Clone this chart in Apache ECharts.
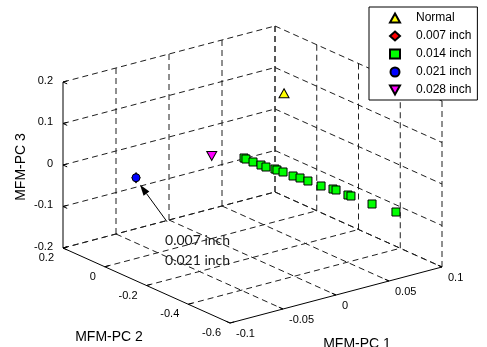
<!DOCTYPE html>
<html>
<head>
<meta charset="utf-8">
<script src="https://cdn.jsdelivr.net/npm/echarts@6/dist/echarts.min.js"></script>
<style>
  html, body { margin: 0; padding: 0; background: #fff; }
  #chart { width: 487px; height: 347px; }
</style>
</head>
<body>
<div id="chart"></div>
<script>
// ---- axis ticks ----
const pc1Ticks = [-0.1, -0.05, 0, 0.05, 0.1];
const pc2Ticks = [0.2, 0, -0.2, -0.4, -0.6];
const pc3Ticks = [0.2, 0.1, 0, -0.1, -0.2];
const pc1TickLabels = ['-0.1', '-0.05', '0', '0.05', '0.1'];
const pc2TickLabels = ['0.2', '0', '-0.2', '-0.4', '-0.6'];
const pc3TickLabels = ['0.2', '0.1', '0', '-0.1', '-0.2'];

// ---- classes and their feature points [PC1, PC2, PC3] ----
const classNames = ['Normal', '0.007 inch', '0.014 inch', '0.021 inch', '0.028 inch'];
const normalPts = [[0.0987, 0.1501, 0.050]];
const fault007Pts = [[-0.0350, 0.1803, -0.070]];
const fault014Pts = [
  [0.0168, -0.0741, 0.000],
  [0.0166, -0.0844, 0.000],
  [0.0196, -0.1030, -0.005],
  [0.0220, -0.1290, -0.008],
  [0.0234, -0.1457, -0.010],
  [0.0272, -0.1695, -0.012],
  [0.0276, -0.1770, -0.013],
  [0.0297, -0.1955, -0.015],
  [0.0320, -0.2318, -0.018],
  [0.0346, -0.2520, -0.020],
  [0.0364, -0.2808, -0.022],
  [0.0398, -0.3263, -0.026],
  [0.0451, -0.3566, -0.030],
  [0.0456, -0.3686, -0.030],
  [0.0488, -0.4095, -0.035],
  [0.0498, -0.4188, -0.036],
  [0.0567, -0.4847, -0.045],
  [0.0658, -0.5531, -0.055]
];
const fault021Pts = [[-0.0350, 0.1803, -0.070]];
const fault028Pts = [[0.0332, 0.1639, -0.060]];
const annotationLines = ['0.007 inch', '0.021 inch'];

// ---- box extents ----
const PC1_MIN = -0.1, PC1_MAX = 0.1;
const PC2_MIN = -0.6, PC2_MAX = 0.2;
const PC3_MIN = -0.2, PC3_MAX = 0.2;

// Orthographic view of the box: screen position of the (PC1_MIN, PC2_MAX, PC3_MIN)
// corner and the screen displacement per unit along each axis.
const VIEW = {
  origin: [63, 248],
  e1: [1060, -280],      // +PC1
  e2: [-208.75, -93.75], // +PC2
  e3: [0, -415]          // +PC3
};
function project(p) {
  const a = p[0] - PC1_MIN, b = p[1] - PC2_MAX, c = p[2] - PC3_MIN;
  return [
    VIEW.origin[0] + a * VIEW.e1[0] + b * VIEW.e2[0] + c * VIEW.e3[0],
    VIEW.origin[1] + a * VIEW.e1[1] + b * VIEW.e2[1] + c * VIEW.e3[1]
  ];
}
function seg(p, q) { const a = project(p), b = project(q); return [a[0], a[1], b[0], b[1]]; }

// ---- dashed grid on the two back walls and the floor ----
const gridSegs = [];
pc1Ticks.forEach(x => {
  if (x !== PC1_MIN) gridSegs.push(seg([x, PC2_MAX, PC3_MIN], [x, PC2_MAX, PC3_MAX]));
  if (x !== PC1_MIN) gridSegs.push(seg([x, PC2_MAX, PC3_MIN], [x, PC2_MIN, PC3_MIN]));
});
pc2Ticks.forEach(y => {
  gridSegs.push(seg([PC1_MAX, y, PC3_MIN], [PC1_MAX, y, PC3_MAX]));
  if (y !== PC2_MIN) gridSegs.push(seg([PC1_MIN, y, PC3_MIN], [PC1_MAX, y, PC3_MIN]));
});
pc3Ticks.forEach(z => {
  gridSegs.push(seg([PC1_MIN, PC2_MAX, z], [PC1_MAX, PC2_MAX, z]));
  gridSegs.push(seg([PC1_MAX, PC2_MAX, z], [PC1_MAX, PC2_MIN, z]));
});

// ---- solid axes and tick marks ----
const axisSegs = [
  seg([PC1_MIN, PC2_MAX, PC3_MIN], [PC1_MIN, PC2_MAX, PC3_MAX]),
  seg([PC1_MIN, PC2_MAX, PC3_MIN], [PC1_MIN, PC2_MIN, PC3_MIN]),
  seg([PC1_MIN, PC2_MIN, PC3_MIN], [PC1_MAX, PC2_MIN, PC3_MIN])
];
pc3Ticks.forEach(z => {
  axisSegs.push(seg([PC1_MIN, PC2_MAX, z], [PC1_MIN + 0.004, PC2_MAX, z]));
  axisSegs.push(seg([PC1_MIN, PC2_MAX, z], [PC1_MIN, PC2_MAX - 0.02, z]));
});
pc2Ticks.forEach(y => axisSegs.push(seg([PC1_MIN, y, PC3_MIN], [PC1_MIN + 0.004, y, PC3_MIN])));
pc1Ticks.forEach(x => axisSegs.push(seg([x, PC2_MIN, PC3_MIN], [x, PC2_MIN + 0.02, PC3_MIN])));

// ---- tick label anchors ----
const tickTexts = [];
pc3Ticks.forEach((z, i) => {
  const p = project([PC1_MIN, PC2_MAX, z]);
  tickTexts.push([p[0] - 10, p[1] - 1.5, pc3TickLabels[i], 'right']);
});
pc2Ticks.forEach((y, i) => {
  const p = project([PC1_MIN, y, PC3_MIN]);
  tickTexts.push([p[0] - 9, p[1] + 10, pc2TickLabels[i], 'right']);
});
pc1Ticks.forEach((x, i) => {
  const p = project([x, PC2_MIN, PC3_MIN]);
  tickTexts.push([p[0] + 6, p[1] + 11, pc1TickLabels[i], 'left']);
});

const AXIS_FONT = 'Liberation Sans, Arial, sans-serif';

function segmentSeries(data, style, z) {
  return {
    type: 'custom', silent: true, z: z, data: data,
    encode: { x: [0, 2], y: [1, 3] },
    renderItem: (params, api) => {
      const a = api.coord([api.value(0), api.value(1)]);
      const b = api.coord([api.value(2), api.value(3)]);
      return { type: 'line', shape: { x1: a[0], y1: a[1], x2: b[0], y2: b[1] }, style: style };
    }
  };
}

// arrow pointing at the overlapping 0.007 / 0.021 inch points
const arrowTip = project(fault021Pts[0]).map((v, i) => v + [4, 7][i]);
const arrowTail = [arrowTip[0] + 27, arrowTip[1] + 37];

const triangleDown = 'path://M0,0L10,0L5,9Z';

const chart = echarts.init(document.getElementById('chart'), null, { renderer: 'canvas' });
chart.setOption({
  animation: false,
  backgroundColor: '#fff',
  grid: { left: 0, right: 0, top: 0, bottom: 0 },
  xAxis: { type: 'value', min: 0, max: 487, show: false },
  yAxis: { type: 'value', min: 0, max: 347, inverse: true, show: false },
  legend: {
    data: classNames,
    orient: 'vertical',
    left: 369, top: 7,
    padding: [5, 6, 4, 20],
    itemWidth: 10, itemHeight: 9, itemGap: 6,
    symbolKeepAspect: true,
    backgroundColor: '#fff', borderColor: '#000', borderWidth: 1, borderRadius: 0,
    selectedMode: false,
    textStyle: { fontFamily: AXIS_FONT, fontSize: 12, color: '#000', padding: [0, 0, 0, 11] }
  },
  graphic: [
    { type: 'text', x: 109, y: 337, style: { text: 'MFM-PC 2', font: '14px ' + AXIS_FONT, fill: '#000', align: 'center', verticalAlign: 'middle' } },
    { type: 'text', x: 357, y: 344, style: { text: 'MFM-PC 1', font: '14px ' + AXIS_FONT, fill: '#000', align: 'center', verticalAlign: 'middle' } },
    { type: 'text', x: 21, y: 167, rotation: Math.PI / 2, style: { text: 'MFM-PC 3', font: '14px ' + AXIS_FONT, fill: '#000', align: 'center', verticalAlign: 'middle' } },
    { type: 'text', x: arrowTail[0] - 2, y: arrowTail[1] + 19, style: { text: annotationLines[0], font: '14px Lato, sans-serif', fill: '#1a1a1a', align: 'left', verticalAlign: 'middle' } },
    { type: 'text', x: arrowTail[0] - 2, y: arrowTail[1] + 39, style: { text: annotationLines[1], font: '14px Lato, sans-serif', fill: '#1a1a1a', align: 'left', verticalAlign: 'middle' } }
  ],
  series: [
    segmentSeries(gridSegs, { stroke: '#1e1e1e', lineWidth: 1, lineDash: [6, 4] }, 1),
    segmentSeries(axisSegs, { stroke: '#000', lineWidth: 1 }, 2),
    {
      type: 'custom', silent: true, z: 2, data: tickTexts.map(t => [t[0], t[1]]),
      renderItem: (params, api) => {
        const p = api.coord([api.value(0), api.value(1)]);
        const t = tickTexts[params.dataIndex];
        return { type: 'text', x: p[0], y: p[1], style: { text: t[2], font: '11px ' + AXIS_FONT, fill: '#000', align: t[3], verticalAlign: 'middle' } };
      }
    },
    { name: classNames[0], type: 'scatter', z: 3, symbol: 'triangle', symbolSize: [10, 9],
      itemStyle: { color: '#ffff00', borderColor: '#000', borderWidth: 1, opacity: 1 }, data: normalPts.map(project) },
    { name: classNames[1], type: 'scatter', z: 3, symbol: 'diamond', symbolSize: [8, 10],
      itemStyle: { color: '#ff0000', borderColor: '#000', borderWidth: 1, opacity: 1 }, data: fault007Pts.map(project) },
    { name: classNames[2], type: 'scatter', z: 3, symbol: 'rect', symbolSize: 8,
      itemStyle: { color: '#00ff00', borderColor: '#000', borderWidth: 1, opacity: 1 }, data: fault014Pts.map(project) },
    { name: classNames[3], type: 'scatter', z: 3, symbol: 'circle', symbolSize: 8,
      itemStyle: { color: '#0000ff', borderColor: '#000', borderWidth: 1, opacity: 1 }, data: fault021Pts.map(project) },
    { name: classNames[4], type: 'scatter', z: 3, symbol: triangleDown, symbolSize: [10, 9],
      itemStyle: { color: '#ff00ff', borderColor: '#000', borderWidth: 1, opacity: 1 }, data: fault028Pts.map(project) },
    {
      type: 'custom', silent: true, z: 4, data: [[arrowTip[0], arrowTip[1], arrowTail[0], arrowTail[1]]],
      encode: { x: [0, 2], y: [1, 3] },
      renderItem: (params, api) => {
        const tip = api.coord([api.value(0), api.value(1)]);
        const tail = api.coord([api.value(2), api.value(3)]);
        const dx = tip[0] - tail[0], dy = tip[1] - tail[1];
        const len = Math.hypot(dx, dy), ux = dx / len, uy = dy / len;
        const hl = 11, hw = 3.6;
        const bx = tip[0] - ux * hl, by = tip[1] - uy * hl;
        return {
          type: 'group',
          children: [
            { type: 'line', shape: { x1: tail[0], y1: tail[1], x2: bx, y2: by }, style: { stroke: '#000', lineWidth: 1 } },
            { type: 'polygon', shape: { points: [tip, [bx - uy * hw, by + ux * hw], [bx + uy * hw, by - ux * hw]] }, style: { fill: '#000' } }
          ]
        };
      }
    }
  ]
});
</script>
</body>
</html>
